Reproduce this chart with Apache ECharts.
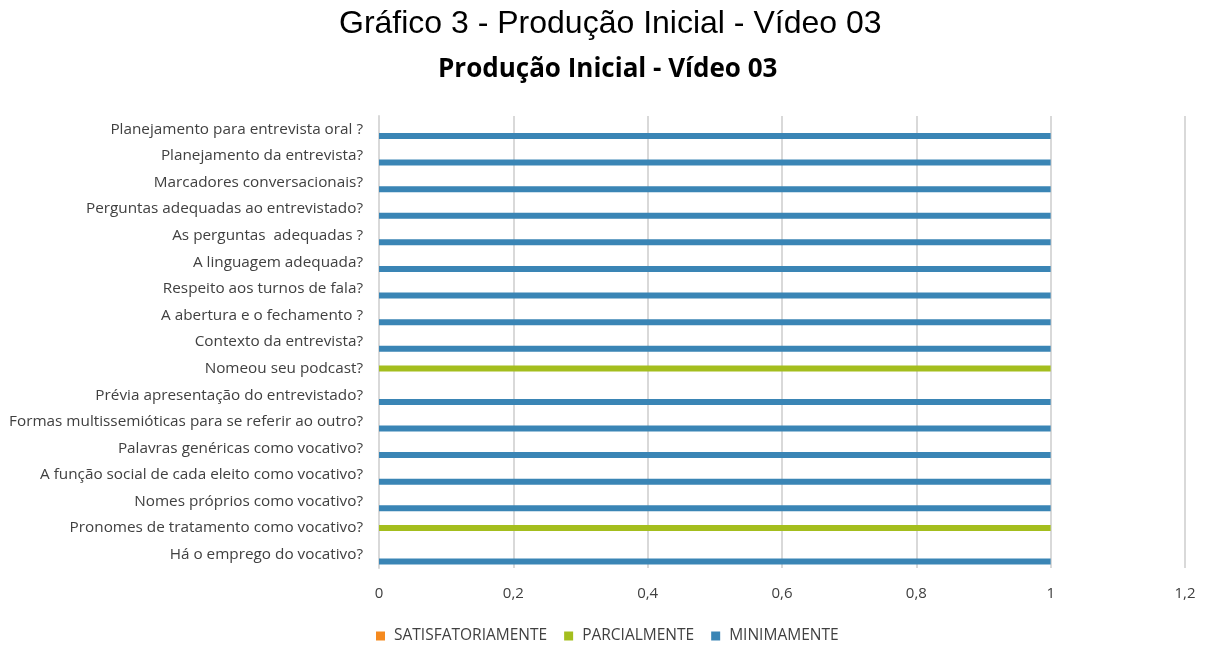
<!DOCTYPE html>
<html>
<head>
<meta charset="utf-8">
<script src="https://cdn.jsdelivr.net/npm/echarts@6/dist/echarts.min.js"></script>
<style>
  html, body { margin: 0; padding: 0; background: #fff; }
  #main { width: 1205px; height: 646px; }
</style>
</head>
<body>
<div id="main"></div>
<script>
// categories, bottom to top (as ECharts draws a y category axis)
var categories = [
  "Há o emprego do vocativo?",
  "Pronomes de tratamento como vocativo?",
  "Nomes próprios como vocativo?",
  "A função social de cada eleito como vocativo?",
  "Palavras genéricas como vocativo?",
  "Formas multissemióticas para se referir ao outro?",
  "Prévia apresentação do entrevistado?",
  "Nomeou seu podcast?",
  "Contexto da entrevista?",
  "A abertura e o fechamento ?",
  "Respeito aos turnos de fala?",
  "A linguagem adequada?",
  "As perguntas  adequadas ?",
  "Perguntas adequadas ao entrevistado?",
  "Marcadores conversacionais?",
  "Planejamento da entrevista?",
  "Planejamento para entrevista oral ?"
];
var satisfatoriamente = [0, 0, 0, 0, 0, 0, 0, 0, 0, 0, 0, 0, 0, 0, 0, 0, 0];
var parcialmente      = [0, 1, 0, 0, 0, 0, 0, 1, 0, 0, 0, 0, 0, 0, 0, 0, 0];
var minimamente       = [1, 0, 1, 1, 1, 1, 1, 0, 1, 1, 1, 1, 1, 1, 1, 1, 1];
var xTicks = [0, 0.2, 0.4, 0.6, 0.8, 1, 1.2];

var chart = echarts.init(document.getElementById("main"));
var labelFont = "'Open Sans', sans-serif";

function nz(arr) {
  // zero values are not drawn
  return arr.map(function (v) { return v === 0 ? null : v; });
}

var option = {
  backgroundColor: "#fff",
  animation: false,
  title: [
    {
      text: "Gráfico 3 - Produção Inicial - Vídeo 03",
      left: 334,
      top: 3,
      textStyle: { fontFamily: "'Liberation Sans', Arial, sans-serif", fontSize: 32, fontWeight: "normal", color: "#000" }
    },
    {
      text: "Produção Inicial - Vídeo 03",
      left: 433,
      top: 52,
      textStyle: { fontFamily: "'Open Sans', sans-serif", fontSize: 26, fontWeight: "bold", color: "#000" }
    }
  ],
  legend: {
    top: 628,
    left: 376,
    padding: 0,
    itemWidth: 9,
    itemHeight: 9,
    itemGap: 17,
    icon: "rect",
    data: ["SATISFATORIAMENTE", "PARCIALMENTE", "MINIMAMENTE"],
    textStyle: { fontFamily: labelFont, fontSize: 15.5, color: "#404040", padding: [0, 0, 0, 4] }
  },
  grid: { left: 379, right: 20, top: 116, bottom: 78, containLabel: false },
  xAxis: {
    type: "value",
    min: 0,
    max: 1.2,
    interval: 0.2,
    axisLine: { show: false },
    axisTick: { show: false },
    splitLine: { lineStyle: { color: "#d9d9d9", width: 2 } },
    axisLabel: {
      margin: 18,
      fontFamily: labelFont,
      fontSize: 15,
      color: "#404040",
      formatter: function (v) {
        var t = xTicks.filter(function (x) { return Math.abs(x - v) < 1e-9; })[0];
        return t === undefined ? "" : String(t).replace(".", ",");
      }
    }
  },
  yAxis: {
    type: "category",
    data: categories,
    axisLine: { show: true, lineStyle: { color: "#d9d9d9", width: 2 } },
    axisTick: { show: false },
    axisLabel: { margin: 16, fontFamily: labelFont, fontSize: 15.3, color: "#404040" }
  },
  series: [
    {
      name: "SATISFATORIAMENTE", type: "bar", data: nz(satisfatoriamente),
      barWidth: 6, barGap: "12%",
      itemStyle: { color: "#f58a1f" }
    },
    {
      name: "PARCIALMENTE", type: "bar", data: nz(parcialmente),
      barWidth: 6, barGap: "12%",
      itemStyle: { color: "#a4be1e" }
    },
    {
      name: "MINIMAMENTE", type: "bar", data: nz(minimamente),
      barWidth: 6, barGap: "12%",
      itemStyle: { color: "#3a85b5" }
    }
  ]
};
chart.setOption(option);
</script>
</body>
</html>
